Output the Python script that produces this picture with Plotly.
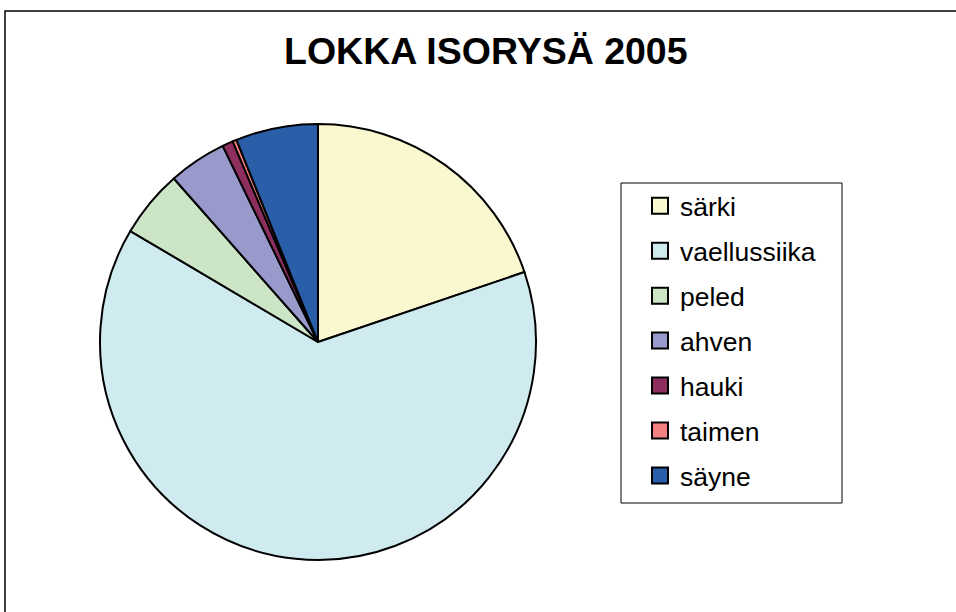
# Pie chart: LOKKA ISORYSÄ 2005
import plotly.graph_objects as go

# Data (share of catch, %)
labels = ["särki", "vaellussiika", "peled", "ahven", "hauki", "taimen", "säyne"]
values = [19.8, 63.7, 5.0, 4.3, 0.8, 0.3, 6.1]
colors = ["#FAF8CE", "#CFEBEF", "#CCE5C7", "#9999CC", "#8E2E5E", "#F28080", "#2A5EA9"]

W, H = 956, 612
font_family = "Liberation Sans, Arial, sans-serif"

fig = go.Figure()

# The pie itself
fig.add_trace(go.Pie(
    labels=labels,
    values=values,
    sort=False,
    direction="clockwise",
    rotation=0,
    textinfo="none",
    showlegend=False,
    marker=dict(colors=colors, line=dict(color="black", width=2)),
    domain=dict(x=[100 / W, 536 / W], y=[1 - 560 / H, 1 - 124 / H]),
))

# Legend entries (one group per label so the spacing can be widened)
for lab, col in zip(labels, colors):
    fig.add_trace(go.Scatter(
        x=[None], y=[None],
        mode="markers",
        name=lab,
        legendgroup=lab,
        marker=dict(symbol="square", size=17, color=col,
                    line=dict(color="black", width=2)),
    ))

fig.update_layout(
    width=W, height=H,
    margin=dict(l=0, r=0, t=0, b=0),
    paper_bgcolor="white",
    plot_bgcolor="white",
    font=dict(family=font_family, color="black"),
    xaxis=dict(visible=False),
    yaxis=dict(visible=False),
    showlegend=True,
    legend=dict(
        x=640 / W, xanchor="left",
        y=1 - 182 / H, yanchor="top",
        bgcolor="rgba(0,0,0,0)",
        borderwidth=0,
        font=dict(size=26.5, family=font_family, color="black"),
        tracegroupgap=7.5,
        traceorder="grouped",
        itemclick=False,
    ),
    annotations=[dict(
        text="<b>LOKKA ISORYSÄ 2005</b>",
        x=486 / W, y=1 - 51 / H,
        xref="paper", yref="paper",
        xanchor="center", yanchor="middle",
        showarrow=False,
        font=dict(size=37.5, family=font_family, color="black"),
    )],
    shapes=[
        # outer chart frame
        dict(type="rect", xref="paper", yref="paper",
             x0=5 / W, x1=1.05, y0=-0.05, y1=1 - 11 / H,
             line=dict(color="black", width=1.5)),
        # legend frame
        dict(type="rect", xref="paper", yref="paper",
             x0=621 / W, x1=842 / W, y0=1 - 503 / H, y1=1 - 183 / H,
             line=dict(color="black", width=1)),
    ],
)

# Remove the default page margin so the figure sits at the window's corner
fig.write_html("out.html", config={"displayModeBar": False},
               post_script="document.body.style.margin='0';")
